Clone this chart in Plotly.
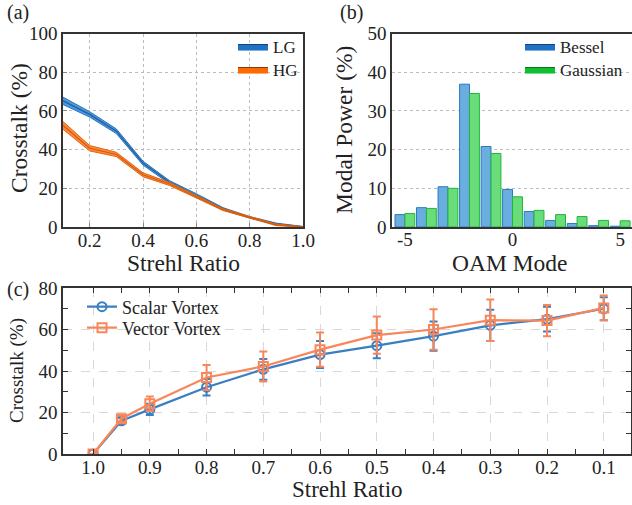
import plotly.graph_objects as go

# ---------------- data ----------------
# (a) crosstalk vs Strehl ratio
strehl_a = [0.1, 0.2, 0.3, 0.4, 0.5, 0.6, 0.7, 0.8, 0.9, 1.0]
lg_mean = [65.2, 58.2, 49.5, 33.0, 23.1, 16.5, 9.5, 5.0, 1.6, 0.1]
lg_half = [1.9, 1.4, 1.2, 1.0, 0.8, 0.7, 0.5, 0.4, 0.4, 0.2]
hg_mean = [52.5, 40.7, 37.5, 27.0, 22.2, 15.6, 9.0, 5.0, 1.1, 0.1]
hg_half = [2.0, 1.4, 1.1, 1.0, 0.8, 0.6, 0.5, 0.4, 0.4, 0.1]

# (b) modal power vs OAM mode
oam_modes = [-5, -4, -3, -2, -1, 0, 1, 2, 3, 4, 5]
bessel = [3.2, 5.0, 10.4, 36.9, 20.8, 9.7, 4.0, 1.7, 0.9, 0.35, 0.2]
gaussian = [3.5, 4.8, 10.0, 34.5, 19.0, 7.8, 4.3, 3.2, 2.7, 1.7, 1.6]

# (c) crosstalk vs Strehl ratio, scalar / vector vortex
strehl_c = [1.0, 0.95, 0.9, 0.8, 0.7, 0.6, 0.5, 0.4, 0.3, 0.2, 0.1]
scalar = [0.0, 16.0, 21.5, 32.2, 40.8, 47.9, 52.2, 56.8, 62.0, 65.0, 70.0]
scalar_err = [0.0, 1.5, 2.7, 4.0, 5.0, 6.5, 6.0, 7.0, 7.5, 6.0, 5.5]
vector = [0.0, 17.0, 24.2, 36.9, 42.2, 50.3, 57.3, 60.0, 64.5, 64.3, 70.4]
vector_err = [0.0, 1.5, 3.5, 6.0, 7.2, 8.3, 9.0, 9.8, 10.0, 7.5, 6.0]

# ---------------- styling ----------------
FONT = "Liberation Serif"
AX = "#333333"
W, H = 632, 505

fig = go.Figure()


def band(xs, mean, half, edge, fill, mid, name, lfill, ledge, leg):
    upper = [m + h for m, h in zip(mean, half)]
    lower = [m - h for m, h in zip(mean, half)]
    fig.add_trace(go.Scatter(
        x=xs + xs[::-1], y=upper + lower[::-1], fill="toself",
        fillcolor=fill, line=dict(color=edge, width=1), mode="lines",
        showlegend=False, xaxis="x", yaxis="y", hoverinfo="skip"))
    fig.add_trace(go.Scatter(
        x=xs, y=mean, mode="lines", line=dict(color=mid, width=1.2),
        showlegend=False, xaxis="x", yaxis="y"))
    # legend swatch
    fig.add_trace(go.Scatter(
        x=[None], y=[None], fill="toself", mode="lines", fillcolor=lfill,
        line=dict(color=ledge, width=1), name=name, legend=leg,
        xaxis="x", yaxis="y"))


band(strehl_a, lg_mean, lg_half, "#2a72b8", "#4f98dc", "#1a5fa5", "LG", "#1f72c4", "#0f3f75", "legend")
band(strehl_a, hg_mean, hg_half, "#e0660f", "#ff8a3d", "#d45a08", "HG", "#ff6a00", "#7a3a08", "legend2")

# (b) bars
fig.add_trace(go.Bar(x=oam_modes, y=bessel, name="Bessel",
                     marker=dict(color="#6aaee0", line=dict(color="#2a78c0", width=1)),
                     xaxis="x2", yaxis="y2", showlegend=False))
fig.add_trace(go.Bar(x=oam_modes, y=gaussian, name="Gaussian",
                     marker=dict(color="#6adc7a", line=dict(color="#1cb83a", width=1)),
                     xaxis="x2", yaxis="y2", showlegend=False))
for nm, fc, lc, leg in [("Bessel", "#1f72c4", "#0f3f75", "legend3"),
                        ("Gaussian", "#10c030", "#0a6a1a", "legend4")]:
    fig.add_trace(go.Scatter(x=[None], y=[None], fill="toself", mode="lines",
                             fillcolor=fc, line=dict(color=lc, width=1), name=nm,
                             legend=leg, xaxis="x2", yaxis="y2"))

# (c) lines with error bars
fig.add_trace(go.Scatter(
    x=strehl_c, y=scalar, name="Scalar Vortex", mode="lines+markers",
    line=dict(color="#3a7fc1", width=2.2),
    marker=dict(symbol="circle-open", size=9, color="#3a7fc1", line=dict(width=2)),
    error_y=dict(type="data", array=scalar_err, color="#3a7fc1", thickness=2, width=4),
    xaxis="x3", yaxis="y3", legend="legend5"))
fig.add_trace(go.Scatter(
    x=strehl_c, y=vector, name="Vector Vortex", mode="lines+markers",
    line=dict(color="#f8865a", width=2.2),
    marker=dict(symbol="square-open", size=9, color="#f8865a", line=dict(width=2)),
    error_y=dict(type="data", array=vector_err, color="#f8865a", thickness=2, width=4),
    xaxis="x3", yaxis="y3", legend="legend6"))


def px_x(p):
    return p / W


def px_y(p):
    return 1 - p / H


tickfont = dict(family=FONT, size=19, color="#222")
common = dict(showline=True, linecolor=AX, linewidth=1.5, tickfont=tickfont, zeroline=False)


def leg(x, y, size, anchor="left"):
    return dict(x=px_x(x), y=px_y(y), xanchor=anchor, yanchor="middle",
                bgcolor="rgba(0,0,0,0)", font=dict(family=FONT, size=size),
                itemwidth=30, borderwidth=0)


fig.update_layout(
    width=W, height=H, margin=dict(l=0, r=0, t=0, b=0, autoexpand=False),
    paper_bgcolor="white", plot_bgcolor="white",
    font=dict(family=FONT, color="#222"),
    barmode="group", bargap=0.08, bargroupgap=0.0,
    xaxis=dict(domain=[px_x(63), px_x(303)], range=[0.1, 1.0],
               tickvals=[0.2, 0.4, 0.6, 0.8, 1.0], ticktext=["0.2", "0.4", "0.6", "0.8", "1.0"],
               showgrid=True, gridcolor="#bbbbbb", griddash="dot", gridwidth=1,
               ticks="inside", ticklen=4, tickcolor="#888", anchor="y", mirror=True,
               ticklabelstandoff=-5, **common),
    yaxis=dict(domain=[px_y(227), px_y(33.5)], range=[0, 100],
               tickvals=[0, 20, 40, 60, 80, 100],
               showgrid=True, gridcolor="#bbbbbb", griddash="dot", gridwidth=1,
               ticks="inside", ticklen=4, tickcolor="#888", anchor="x", mirror=True, **common),
    xaxis2=dict(domain=[px_x(392), 1.0], range=[-5.6, 5.55],
                tickvals=[-5, 0, 5], ticktext=["-5", "0", "5"], showgrid=False,
                ticks="", anchor="y2", mirror=True, ticklabelstandoff=-6, **common),
    yaxis2=dict(domain=[px_y(227), px_y(33.5)], range=[0, 50],
                tickvals=[0, 10, 20, 30, 40, 50],
                showgrid=True, gridcolor="#bbbbbb", griddash="dot", gridwidth=1,
                ticks="", anchor="x2", mirror=False, **common),
    xaxis3=dict(domain=[px_x(63), px_x(631)], range=[1.053, 0.052],
                tickvals=[1.0, 0.9, 0.8, 0.7, 0.6, 0.5, 0.4, 0.3, 0.2, 0.1],
                ticktext=["1.0", "0.9", "0.8", "0.7", "0.6", "0.5", "0.4", "0.3", "0.2", "0.1"],
                showgrid=True, gridcolor="#d8d8d8", griddash="dash", gridwidth=1,
                ticks="inside", ticklen=5, tickcolor=AX,
                minor=dict(tickvals=[0.95, 0.85, 0.75, 0.65, 0.55, 0.45, 0.35, 0.25, 0.15],
                           ticks="inside", ticklen=5, tickcolor=AX, showgrid=False),
                anchor="y3", mirror="allticks", ticklabelstandoff=-5, **common),
    yaxis3=dict(domain=[px_y(454), px_y(288)], range=[0, 80],
                tickvals=[0, 20, 40, 60, 80],
                showgrid=True, gridcolor="#d8d8d8", griddash="dash", gridwidth=1,
                ticks="inside", ticklen=5, tickcolor=AX,
                minor=dict(tickvals=[10, 30, 50, 70], ticks="inside", ticklen=5,
                           tickcolor=AX, showgrid=False),
                anchor="x3", mirror="allticks", **common),
    legend=leg(233, 47, 17),
    legend2=leg(233, 70, 17),
    legend3=leg(520, 47, 17),
    legend4=leg(520, 70, 17),
    legend5=leg(82, 307, 18),
    legend6=leg(82, 328, 18),
)

labels = [
    ("(a)", 18, 12, 0, 20),
    ("(b)", 351, 12, 0, 20),
    ("(c)", 18, 289, 0, 20),
    ("Strehl Ratio", 183, 263, 0, 23.5),
    ("OAM Mode", 510, 263, 0, 23.5),
    ("Crosstalk (%)", 19, 128, -90, 23.5),
    ("Modal Power (%)", 344, 130, -90, 23.5),
    ("Crosstalk (%)", 17, 371, -90, 19),
    ("Strehl Ratio", 347, 489, 0, 23),
]
for text, x, y, ang, size in labels:
    fig.add_annotation(text=text, x=px_x(x), y=px_y(y), xref="paper", yref="paper",
                       showarrow=False, xanchor="center", yanchor="middle", textangle=ang,
                       font=dict(family=FONT, size=size, color="#222"))

fig.write_html("out.html")
